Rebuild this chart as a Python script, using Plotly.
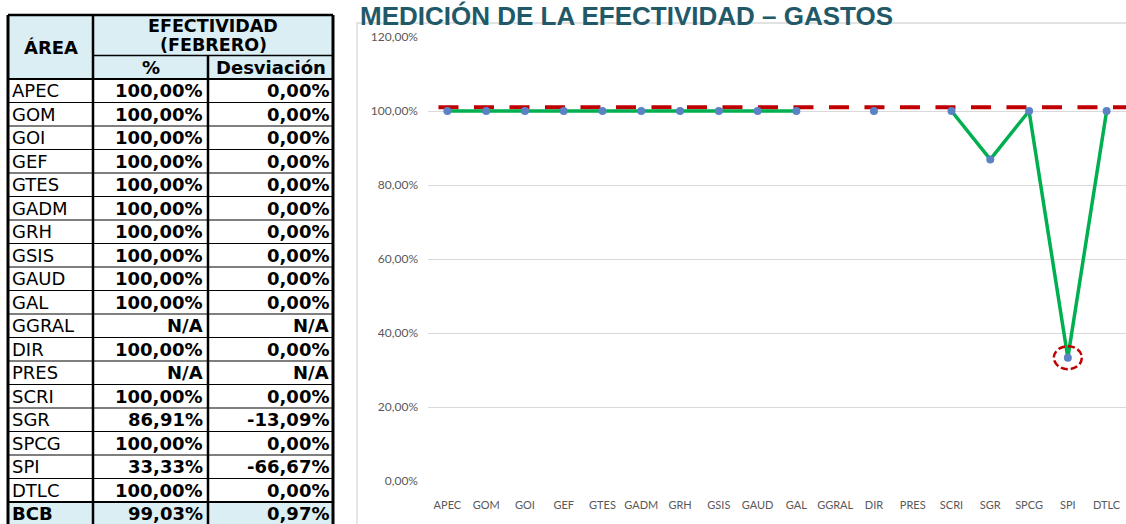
import plotly.graph_objects as go

# ---------------- DATA ----------------
AREAS = ["APEC", "GOM", "GOI", "GEF", "GTES", "GADM", "GRH", "GSIS", "GAUD",
         "GAL", "GGRAL", "DIR", "PRES", "SCRI", "SGR", "SPCG", "SPI", "DTLC"]
EFECTIVIDAD = [100, 100, 100, 100, 100, 100, 100, 100, 100,
               100, None, 100, None, 100, 86.91, 100, 33.33, 100]
DESVIACION = [0, 0, 0, 0, 0, 0, 0, 0, 0,
              0, None, 0, None, 0, -13.09, 0, -66.67, 0]
TOTAL_AREA = "BCB"
TOTAL_EFECTIVIDAD = 99.03
TOTAL_DESVIACION = 0.97
META = 101            # red dashed reference line level (%)
Y_TICKS = [0, 20, 40, 60, 80, 100, 120]
TITLE = "MEDICIÓN DE LA EFECTIVIDAD – GASTOS"
HEAD_AREA = "ÁREA"
HEAD_EFECT_1 = "EFECTIVIDAD"
HEAD_EFECT_2 = "(FEBRERO)"
HEAD_PCT = "%"
HEAD_DESV = "Desviación"

# ---------------- LAYOUT CONSTANTS ----------------
W, H = 1126, 524
PLOT_L, PLOT_T, PLOT_B = 428, 37, 481
GRAY = "#595959"
GRID = "#D9D9D9"
GREEN = "#00B050"
BLUE = "#5B82C4"
RED = "#C00000"
TEAL = "#215968"
HEAD_FILL = "#DAEEF3"
TFONT = "DejaVu Sans"

# table geometry (pixels / row units)
ROW_H = 23.5
DATA_TOP = 79
TABLE_TOP_PX = 15
COLS = [8, 93, 208, 333]


def fmt(v):
    if v is None:
        return "N/A"
    return f"{v:.2f}".replace(".", ",") + "%"


fig = go.Figure()

# ---------------- CHART ----------------
n = len(AREAS)
xs = list(range(n))

# red dashed meta line (drawn first so the series sits on top)
fig.add_trace(go.Scatter(
    x=[-0.23, n - 0.5], y=[META, META], mode="lines",
    line=dict(color=RED, width=4, dash="20px,15.5px"),
    hoverinfo="skip", showlegend=False, xaxis="x", yaxis="y"))

fig.add_trace(go.Scatter(
    x=xs, y=EFECTIVIDAD, mode="lines+markers", connectgaps=False,
    line=dict(color=GREEN, width=3.5),
    marker=dict(color=BLUE, size=8),
    showlegend=False, xaxis="x", yaxis="y"))

# highlight the minimum point
valid = [(v, i) for i, v in enumerate(EFECTIVIDAD) if v is not None]
vmin, imin = min(valid)
fig.add_shape(type="circle", xref="x", yref="y",
              xsizemode="pixel", ysizemode="pixel",
              xanchor=imin, yanchor=vmin,
              x0=-14, x1=14, y0=-11.5, y1=11.5,
              line=dict(color=RED, width=2.5, dash="7px,3px"))

# chart border
fig.add_shape(type="rect", xref="paper", yref="paper",
              x0=357 / W, x1=1.01, y0=-0.01, y1=1 - 23 / H,
              line=dict(color=GRID, width=1.3), layer="below")

# title
fig.add_annotation(text=f"<b>{TITLE}</b>", xref="paper", yref="paper",
                   x=626 / W, y=1, xanchor="center", yanchor="top",
                   showarrow=False, borderpad=0,
                   font=dict(family="Liberation Sans", size=26, color=TEAL))

# ---------------- TABLE ----------------
y_top = (TABLE_TOP_PX - DATA_TOP) / ROW_H       # table top in row units
y_bot = n + 1                                    # bottom of total row


def hline(y, x0, x1, w):
    fig.add_shape(type="line", xref="x2", yref="y2", x0=x0, x1=x1, y0=y, y1=y,
                  line=dict(color="black", width=w))


def vline(x, y0, y1, w):
    fig.add_shape(type="line", xref="x2", yref="y2", x0=x, x1=x, y0=y0, y1=y1,
                  line=dict(color="black", width=w))


# fills
fig.add_shape(type="rect", xref="x2", yref="y2", x0=COLS[0], x1=COLS[-1],
              y0=y_top, y1=0, fillcolor=HEAD_FILL, line=dict(width=0), layer="below")
fig.add_shape(type="rect", xref="x2", yref="y2", x0=COLS[0], x1=COLS[-1],
              y0=n, y1=n + 1, fillcolor=HEAD_FILL, line=dict(width=0), layer="below")

# horizontal rules
hline(y_top, COLS[0], COLS[-1], 2.5)
hline(-1, COLS[1], COLS[-1], 1.5)
hline(0, COLS[0], COLS[-1], 2)
for r in range(1, n + 1):
    hline(r, COLS[0], COLS[-1], 1.2 if r < n else 2)
hline(n + 1, COLS[0], COLS[-1], 2)

# vertical rules
vline(COLS[0], y_top, y_bot, 3)
vline(COLS[1], y_top, y_bot, 2.5)
vline(COLS[2], -1, y_bot, 2.5)
vline(COLS[3], y_top, y_bot, 3)


def txt(s, x, y, anchor, bold=False, size=18):
    fig.add_annotation(text=f"<b>{s}</b>" if bold else s, xref="x2", yref="y2",
                       x=x, y=y, xanchor=anchor, yanchor="middle", showarrow=False,
                       font=dict(family=TFONT, size=size, color="black"))


# header text
txt(HEAD_AREA, (COLS[0] + COLS[1]) / 2, y_top / 2, "center", True)
hmid = (y_top + -1) / 2
txt(HEAD_EFECT_1, (COLS[1] + COLS[3]) / 2, hmid - 0.40, "center", True, 17.5)
txt(HEAD_EFECT_2, (COLS[1] + COLS[3]) / 2, hmid + 0.40, "center", True, 17.5)
txt(HEAD_PCT, (COLS[1] + COLS[2]) / 2, -0.5, "center", True)
txt(HEAD_DESV, (COLS[2] + COLS[3]) / 2, -0.5, "center", True)

rows = list(zip(AREAS, EFECTIVIDAD, DESVIACION))
for i, (a, e, d) in enumerate(rows):
    yc = i + 0.5
    txt(a, COLS[0] + 2, yc, "left", False)
    txt(fmt(e), COLS[2] - 3, yc, "right", True)
    txt(fmt(d), COLS[3] - 2, yc, "right", True)
yc = n + 0.5
txt(TOTAL_AREA, COLS[0] + 2, yc, "left", True)
txt(fmt(TOTAL_EFECTIVIDAD), COLS[2] - 3, yc, "right", True)
txt(fmt(TOTAL_DESVIACION), COLS[3] - 2, yc, "right", True)

# ---------------- AXES / LAYOUT ----------------
fig.update_layout(
    width=W, height=H,
    margin=dict(l=0, r=0, t=0, b=0, pad=0, autoexpand=False),
    paper_bgcolor="white", plot_bgcolor="white",
    showlegend=False,
    xaxis=dict(domain=[PLOT_L / W, 1], range=[-0.5, n - 0.5],
               tickvals=xs, ticktext=AREAS, showgrid=False, zeroline=False,
               showline=False, ticks="", ticklabelstandoff=16, automargin=False,
               tickfont=dict(family="Lato", size=11, color=GRAY),
               anchor="y", fixedrange=True),
    yaxis=dict(domain=[(H - PLOT_B) / H, (H - PLOT_T) / H], range=[0, 120],
               tickvals=Y_TICKS, ticktext=[fmt(v) for v in Y_TICKS],
               showgrid=True, gridcolor=GRID, gridwidth=1, zeroline=False,
               showline=False, ticks="", ticklabelstandoff=9, automargin=False,
               tickfont=dict(family="Lato", size=12, color=GRAY),
               anchor="x", fixedrange=True),
    xaxis2=dict(domain=[0, 340 / W], range=[0, 340], visible=False,
                automargin=False, anchor="y2", fixedrange=True),
    yaxis2=dict(domain=[0, 1], range=[(H - DATA_TOP) / ROW_H, -DATA_TOP / ROW_H],
                visible=False, automargin=False, anchor="x2", fixedrange=True),
)

fig.write_html(
    "out.html",
    config={"displayModeBar": False},
    post_script="document.body.style.margin='0';document.body.style.overflow='hidden';",
)
